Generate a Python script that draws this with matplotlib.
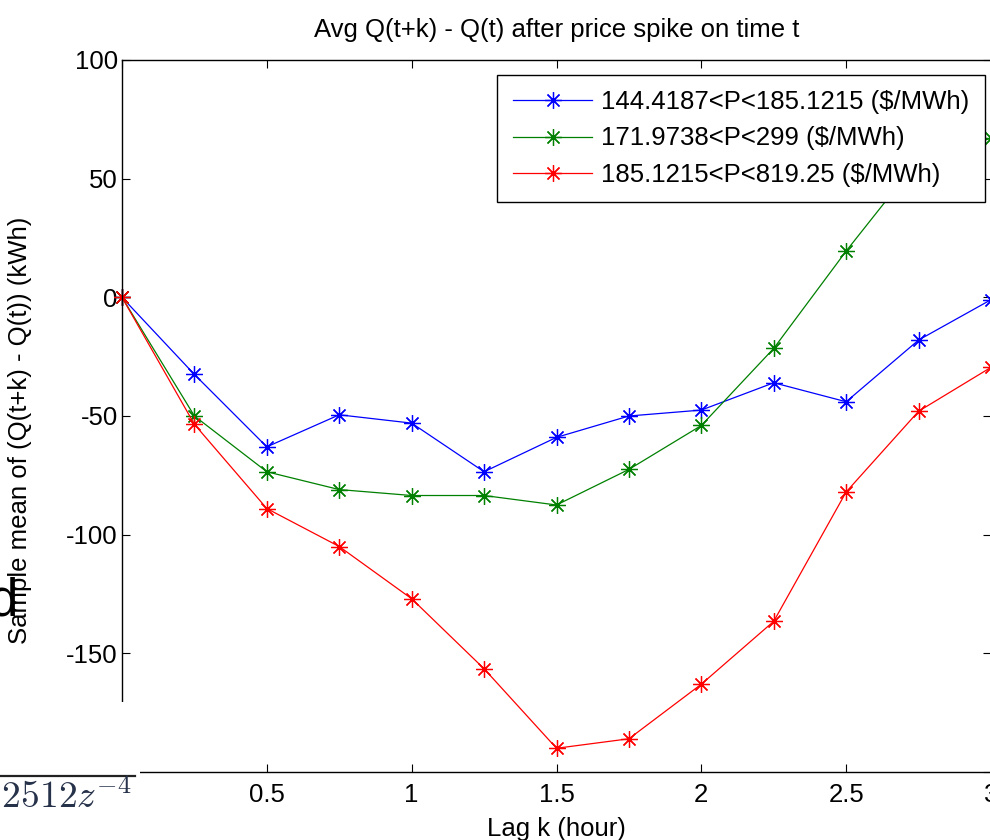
import matplotlib
matplotlib.use('Agg')
from matplotlib import pyplot as plt
from matplotlib.patches import Rectangle
from matplotlib.lines import Line2D
import numpy as np

plt.rcParams['font.family'] = ['Liberation Sans', 'DejaVu Sans']
plt.rcParams['mathtext.fontset'] = 'cm'

# lag in hours
lag = [0, 0.25, 0.5, 0.75, 1.0, 1.25, 1.5, 1.75, 2.0, 2.25, 2.5, 2.75, 3.0]

q_low = [0, -32.5, -63, -49.5, -53, -73.5, -59, -50, -47.5, -36, -44, -18, -1]
q_mid = [0, -50, -73.5, -81, -83.5, -83.5, -87.5, -72.5, -54, -21.5, 19.5, 58, 67]
q_high = [0, -53.5, -89, -105, -127, -156.5, -190, -186, -163, -136.5, -82, -48, -29.5]

labels = ['144.4187<P<185.1215 ($/MWh)',
          '171.9738<P<299 ($/MWh)',
          '185.1215<P<819.25 ($/MWh)']
colors = ['#0000ff', '#008000', '#ff0000']

xticks = [0, 0.5, 1, 1.5, 2, 2.5, 3]
xticklabels = ['', '0.5', '1', '1.5', '2', '2.5', '3']  # the 0 is hidden under the pasted patch
yticks = [-200, -150, -100, -50, 0, 50, 100]
yticklabels = ['-200', '-150', '-100', '-50', '0', '50', '100']

W, H = 990, 840
fs = 18.5
fig = plt.figure(figsize=(W / 100, H / 100), dpi=100)
ax = fig.add_axes([122 / W, (H - 772) / H, (991 - 122) / W, (772 - 60) / H])

star = (8, 2, 0)
for ys, lab, c in zip([q_low, q_mid, q_high], labels, colors):
    ax.plot(lag, ys, color=c, lw=0.9, marker=star, markersize=12,
            markeredgewidth=0.9, label=lab, clip_on=False)

ax.set_xlim(0, 3)
ax.set_ylim(-200, 100)
ax.set_xticks(xticks)
ax.set_xticklabels(xticklabels)
ax.set_yticks(yticks)
ax.set_yticklabels(yticklabels)
ax.tick_params(direction='in', length=6, width=0.8, top=True, right=True,
               labelsize=fs)
ax.tick_params(axis='x', pad=8)
ax.tick_params(axis='y', pad=3)
for sp in ax.spines.values():
    sp.set_linewidth(1.0)

ax.set_title('Avg Q(t+k) - Q(t) after price spike on time t', fontsize=fs, pad=16.5)
ax.set_xlabel('Lag k (hour)', fontsize=fs, labelpad=7)
fig.text(20 / W, 1 - 430 / H, 'Sample mean of (Q(t+k) - Q(t)) (kWh)',
         rotation=90, ha='center', va='center', fontsize=fs)

leg = ax.legend(loc='upper right', bbox_to_anchor=(985 / W, 1 - 75 / H),
                bbox_transform=fig.transFigure, fontsize=fs, frameon=True,
                fancybox=False, edgecolor='black', framealpha=1.0,
                handlelength=3.1, labelspacing=0.47, borderpad=0.6,
                handletextpad=0.35, borderaxespad=0)
leg.get_frame().set_linewidth(1.0)

# leftovers from the pasted figure
fig.text(18 / W, 1 - 615 / H, 'd', fontsize=38, ha='right', va='baseline')
fig.patches.append(Rectangle((0, 0), 140 / W, (H - 702) / H, transform=fig.transFigure,
                             facecolor='white', edgecolor='none', zorder=5))
fig.lines.append(Line2D([0, 135 / W], [1 - 776 / H, 1 - 776 / H], transform=fig.transFigure,
                        color='#222222', lw=1.6, zorder=6))
fig.text(132 / W, 1 - 808 / H, r'$.2512z^{-4}$', fontsize=27, color='#26324a',
         ha='right', va='baseline', zorder=6)

fig.savefig('out.png', dpi=100)
